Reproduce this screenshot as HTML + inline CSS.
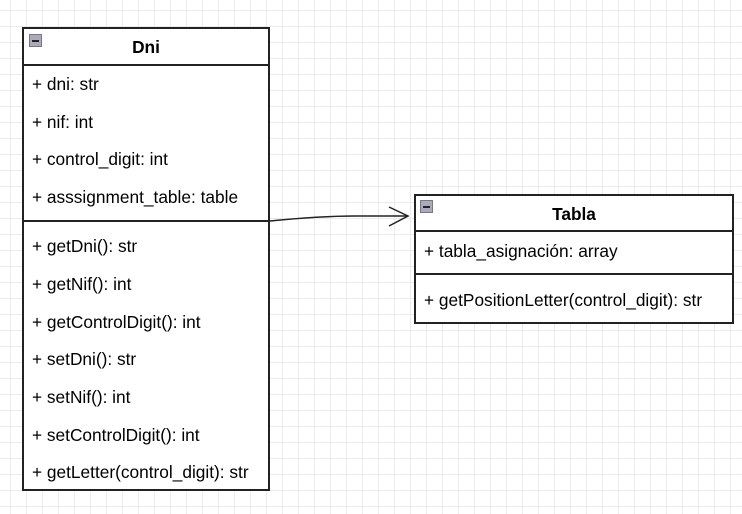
<!DOCTYPE html>
<html><head><style>
body{margin:0;width:742px;height:514px;overflow:hidden;background:#fff;
background-image:linear-gradient(#ebebeb 1px,transparent 1px),linear-gradient(90deg,#ebebeb 1px,transparent 1px);
background-size:16px 16px;background-position:-6px -6px;font-family:"Liberation Sans",sans-serif;}
.t{position:absolute;font-size:17.3px;color:#000;white-space:nowrap}
.box{position:absolute;border:2px solid #222;background:#fff;box-sizing:border-box}
.ic{position:absolute;width:13px;height:13px;background:#aab;border:1px solid #778;box-sizing:border-box}
.ic:after{content:"";position:absolute;left:2px;right:2px;top:5px;height:1.5px;background:#222}
</style></head><body>
<div class="box" style="left:22px;top:27px;width:248px;height:464px"></div>
<div style="position:absolute;left:22px;top:64px;width:248px;height:2px;background:#222"></div>
<div style="position:absolute;left:22px;top:220px;width:248px;height:2px;background:#222"></div>
<div class="ic" style="left:29px;top:34px"></div>
<div class="t" style="left:22px;width:248px;text-align:center;top:37px;font-weight:bold">Dni</div>
<div class="t" style="left:32px;top:74px">+ dni: str</div>
<div class="t" style="left:32px;top:112px">+ nif: int</div>
<div class="t" style="left:32px;top:149px">+ control_digit: int</div>
<div class="t" style="left:32px;top:187px">+ asssignment_table: table</div>
<div class="t" style="left:32px;top:236px">+ getDni(): str</div>
<div class="t" style="left:32px;top:274px">+ getNif(): int</div>
<div class="t" style="left:32px;top:312px">+ getControlDigit(): int</div>
<div class="t" style="left:32px;top:349px">+ setDni(): str</div>
<div class="t" style="left:32px;top:387px">+ setNif(): int</div>
<div class="t" style="left:32px;top:425px">+ setControlDigit(): int</div>
<div class="t" style="left:32px;top:462px">+ getLetter(control_digit): str</div>

<div class="box" style="left:414px;top:194px;width:320px;height:130px"></div>
<div style="position:absolute;left:414px;top:230px;width:320px;height:2px;background:#222"></div>
<div style="position:absolute;left:414px;top:273px;width:320px;height:2px;background:#222"></div>
<div class="ic" style="left:420px;top:200px"></div>
<div class="t" style="left:414px;width:320px;text-align:center;top:204px;font-weight:bold">Tabla</div>
<div class="t" style="left:424px;top:241px">+ tabla_asignación: array</div>
<div class="t" style="left:424px;top:290px">+ getPositionLetter(control_digit): str</div>

<svg style="position:absolute;left:0;top:0" width="742" height="514">
<path d="M270 221 Q 320 216 355 216 L408 216" fill="none" stroke="#222" stroke-width="1.5"/>
<path d="M389 207 L408 216 L389 226" fill="none" stroke="#222" stroke-width="1.5"/>
</svg>
</body></html>
